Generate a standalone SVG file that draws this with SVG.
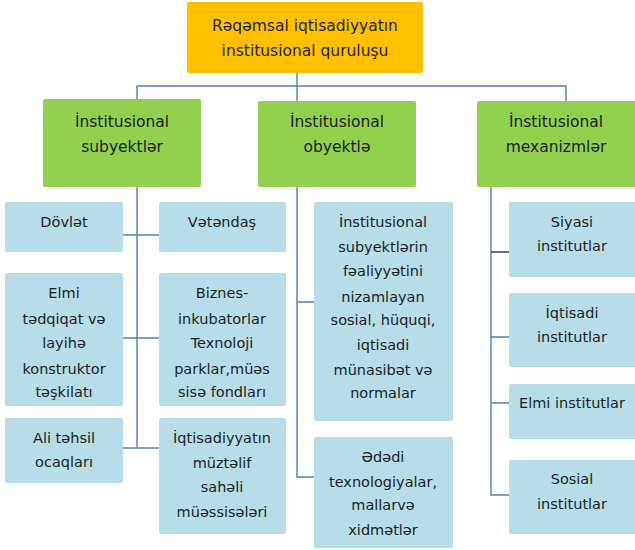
<svg xmlns="http://www.w3.org/2000/svg" width="635" height="550" viewBox="0 0 635 550">
<style>
.t{font-family:"DejaVu Sans",sans-serif;fill:#1e1e1e;text-anchor:middle}
.h{font-size:15.5px}
.s{font-size:14.5px}
.top{fill:#FFC000}
.g{fill:#92D050}
.b{fill:#B7DDE8}
.c{stroke:#4F81BD;stroke-width:1.4;fill:none}
.k{stroke:#333333;stroke-width:1.4;fill:none}
</style>
<g id="connectors">
<path class="c" d="M297,73V101M137,100V86H566V101"/>
<path class="c" d="M137,187V448M123,235H162M123,338H162M123,448H162"/>
<path class="c" d="M297,187V477H314M297,302H314"/>
<path class="c" d="M491,187V495H509M491,337H509M491,403H509"/>
<path class="k" d="M491,252H512"/>
</g>
<g id="n0"><rect class="top" x="187" y="2" width="236" height="71" rx="2"/>
<text class="t h" x="305" y="31">Rəqəmsal iqtisadiyyatın</text>
<text class="t h" x="305" y="56">institusional quruluşu</text></g>
<g id="n1"><rect class="g" x="43" y="99" width="158" height="88" rx="2"/>
<text class="t h" x="122" y="127">İnstitusional</text>
<text class="t h" x="122" y="152">subyektlər</text></g>
<g id="n2"><rect class="g" x="258" y="101" width="158" height="86" rx="2"/>
<text class="t h" x="337" y="127">İnstitusional</text>
<text class="t h" x="337" y="152">obyektlə</text></g>
<g id="n3"><rect class="g" x="477" y="101" width="160" height="86" rx="2"/>
<text class="t h" x="556" y="127">İnstitusional</text>
<text class="t h" x="556" y="152">mexanizmlər</text></g>
<g id="n4"><rect class="b" x="5" y="202" width="118" height="50" rx="2"/>
<text class="t s" x="64" y="227">Dövlət</text></g>
<g id="n5"><rect class="b" x="159" y="202" width="127" height="50" rx="2"/>
<text class="t s" x="222" y="227">Vətəndaş</text></g>
<g id="n6"><rect class="b" x="5" y="273" width="118" height="133" rx="2"/>
<text class="t s" x="64" y="298">Elmi</text>
<text class="t s" x="64" y="324">tədqiqat və</text>
<text class="t s" x="64" y="348">layihə</text>
<text class="t s" x="64" y="374">konstruktor</text>
<text class="t s" x="64" y="397">təşkilatı</text></g>
<g id="n7"><rect class="b" x="159" y="273" width="127" height="133" rx="2"/>
<text class="t s" x="222" y="298">Biznes-</text>
<text class="t s" x="222" y="324">inkubatorlar</text>
<text class="t s" x="222" y="348">Texnoloji</text>
<text class="t s" x="222" y="374">parklar,müəs</text>
<text class="t s" x="222" y="397">sisə fondları</text></g>
<g id="n8"><rect class="b" x="5" y="418" width="118" height="65" rx="2"/>
<text class="t s" x="64" y="443">Ali təhsil</text>
<text class="t s" x="64" y="467">ocaqları</text></g>
<g id="n9"><rect class="b" x="159" y="418" width="127" height="116" rx="2"/>
<text class="t s" x="222" y="443">İqtisadiyyatın</text>
<text class="t s" x="222" y="468">müztəlif</text>
<text class="t s" x="222" y="492">sahəli</text>
<text class="t s" x="222" y="517">müəssisələri</text></g>
<g id="n10"><rect class="b" x="314" y="202" width="139" height="219" rx="2"/>
<text class="t s" x="383" y="227">İnstitusional</text>
<text class="t s" x="383" y="252">subyektlərin</text>
<text class="t s" x="383" y="276">fəaliyyətini</text>
<text class="t s" x="383" y="302">nizamlayan</text>
<text class="t s" x="383" y="325">sosial, hüquqi,</text>
<text class="t s" x="383" y="350">iqtisadi</text>
<text class="t s" x="383" y="375">münasibət və</text>
<text class="t s" x="383" y="398">normalar</text></g>
<g id="n11"><rect class="b" x="314" y="437" width="139" height="111" rx="2"/>
<text class="t s" x="383" y="462">Ədədi</text>
<text class="t s" x="383" y="487">texnologiyalar,</text>
<text class="t s" x="383" y="510">mallarvə</text>
<text class="t s" x="383" y="535">xidmətlər</text></g>
<g id="n12"><rect class="b" x="509" y="202" width="128" height="75" rx="2"/>
<text class="t s" x="572" y="227">Siyasi</text>
<text class="t s" x="572" y="251">institutlar</text></g>
<g id="n13"><rect class="b" x="509" y="293" width="128" height="74" rx="2"/>
<text class="t s" x="572" y="318">İqtisadi</text>
<text class="t s" x="572" y="342">institutlar</text></g>
<g id="n14"><rect class="b" x="509" y="384" width="128" height="55" rx="2"/>
<text class="t s" x="572" y="408">Elmi institutlar</text></g>
<g id="n15"><rect class="b" x="509" y="460" width="128" height="74" rx="2"/>
<text class="t s" x="572" y="484">Sosial</text>
<text class="t s" x="572" y="509">institutlar</text></g>
</svg>
